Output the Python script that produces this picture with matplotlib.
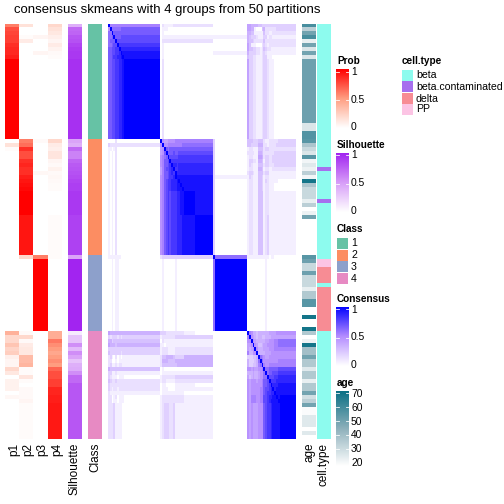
import numpy as np
import matplotlib
matplotlib.use('Agg')
import matplotlib.pyplot as plt
from matplotlib.colors import LinearSegmentedColormap, ListedColormap
from matplotlib.patches import Rectangle

plt.rcParams['font.family'] = ['Liberation Sans', 'DejaVu Sans']

# values, one entry per sample (top to bottom)
p1 = [.6, .75, .78, .8, .8, .85, .87, .87, .9] + [1.0] * 20 \
    + [0, .15, .02] + [0] * 26 + [0] * 19 \
    + [.4, .2, .2, .3, .22, .25, .08, .05, .05, .2, .12, 0, .07, .07, .07, 0, .04] + [0] * 10
p2 = [.15, 0, 0, .02, .1, 0, 0, 0, 0] + [0] * 20 \
    + [.6, .65, .85, .75, .75, .85, .88, .85, .85, .9, .93, .95, .97] + [1.0] * 6 + [.93] * 10 \
    + [.2] + [0] * 18 \
    + [.03, .2, .03, .1, .12, .12, .35, .35, .38, .02, .02, .13, .02, 0, .03, .03, .03, .05] + [.02] * 9
p3 = [0, 0, 0, .05, 0, 0, 0, .05, 0] + [0] * 20 \
    + [.03] + [0] * 7 + [.04] + [0] * 20 \
    + [.6] + [1.0] * 18 + [0] * 27
p4 = [.2, .15, .12, .08, .05, .1, .06, .03, .02] + [0] * 20 \
    + [.2, .1, .08, .13, .13, .05, .03, .07, .03, .04, .03, .02, .02] + [0] * 6 + [.02] * 10 \
    + [.02] + [0] * 18 \
    + [.42, .42, .62, .55, .5, .45, .5, .55, .5, .68, .75, .75, .8, .8, .88, .88, .9, .9] + [.92] * 9
silhouette = [.4, .7, .72, .78, .8, .85, .88, .9, .9] + [.93] * 20 \
    + [.45, .4, .7, .6, .6, .72, .76, .78, .8, .82, .85, .87, .87] + [.9] * 6 + [.86] * 10 \
    + [.45] + [.98] * 18 \
    + [.1, .3, .3, .55, .35, .55, .45, .3, .4, .42, .55, .7, .7] + [.78] * 14
classes = [1] * 29 + [2] * 29 + [3] * 19 + [4] * 27
age = [58, 35, 50, 58, 25, 50, 28, 50, 28] + [51] * 16 + [28, 28, 56, 56] \
    + [55, 38, 32, 28, 55, 23, 27, 24, 35, 23, 68, 38, 32, 32, 32, 25, 35, 20, 24, 50] + [20] * 9 \
    + [55, 51, 32, 32, 51, 32, 32, 32, 25, 37, 37, 55, 55, 20, 20, 68, 20, 20, 68] \
    + [37, 20, 24, 68, 40, 40, 50, 37, 37, 27, 37, 37, 25, 37, 37, 50, 30, 35, 50, 21, 21, 27, 27, 27, 20, 27, 20]
cell_type = [0] * 36 + [1] + [0] * 7 + [1] + [0] * 14 + [3, 3] + [2] * 4 + [0] + [2] * 11 + [0] * 27

# consensus matrix by bands of samples, hex digit = level / 15
band_sizes = [1] * 9 + [20] + [1] * 13 + [6, 10] + [1, 18] + [1] * 18 + [9]
consensus_rows = [
    "f888888888 021111122222222 00 6655554433333333333",
    "7f99999aaa 011100000000000 00 6655100045222222333",
    "99faaaaaaa 010000000000000 00 5544111114221122222",
    "99afaaabbb 011111111111111 11 5433321113312211111",
    "9aaafbbbbb 022222222222222 00 5443222224222222222",
    "99abbfcccc 010000000000000 00 6411100023212222222",
    "aabbccfddd 010000000000000 00 6443322124322111111",
    "aabbccdfee 010000000000000 11 5333322123211111111",
    "aabccddefe 010000000000000 00 4332211123311100000",
    "aabbccddef 020000000000000 00 6332211123321110000",
    "0000200000 f76677778888888 30 4443334442112222233",
    "3222222222 7f7788888888999 30 4433335552212222333",
    "1101200000 67fa9aaaaaaaaaa 30 1221114442332222222",
    "1010200000 67afaaabaabbbbb 30 2222115542222223333",
    "1010200000 789afbbbbbccccc 30 1221116652332233333",
    "1010200000 78aabfccccccccc 30 1332215541332233333",
    "1010200000 78aabcfddcddddd 30 1321114442332223333",
    "1010200000 68abbcdfccddddd 30 1221115541221122222",
    "1010200000 68aabcdcfdddddd 30 2332114442331111111",
    "1010200000 78aabccdfeeeeee 31 1321114431221111111",
    "1010200000 78abccdddefeeee 30 1221114431321111100",
    "1010200000 78abccdddeefeee 30 1221114431221110000",
    "1010200000 78abccdddeeefee 30 1221114431221110000",
    "1010200000 78abcbcccddeefe 30 1221114441221111111",
    "1010200000 78abcbcccdddeef 30 1221114441231111111",
    "1111111000 233333333333333 f9 1111111111110110000",
    "0010110000 010000001000000 9f 0000000000100000000",
    "6555555555 333222222222210 00 f875545555556666777",
    "3233323233 122222223333333 00 8f76545544555666666",
    "5534444444 021111111111111 00 77f7655555667778899",
    "6555455555 110111111111111 00 667f764456677778899",
    "3333333333 122211112222222 00 6567f75556667778888",
    "4333333233 122211112222222 00 85577f5555666777777",
    "2310201011 244555543333355 00 333445f987667777777",
    "2200101111 255544445555555 00 5333459f97777777788",
    "2311212211 244444444555555 00 53344589f8778888888",
    "5444444444 010000000000000 00 776766778f99aaaaabb",
    "3311211111 011111111111111 00 5556556779f9aabbbcc",
    "3211101110 122222223333333 00 64565567799fbbbccdd",
    "4322322222 122111112222222 00 767776778aabfcccddd",
    "3222222222 011000001111110 00 767777778aabcfdddee",
    "3212212222 011100001111111 00 767777788abbcdfdeee",
    "2111111111 011111111111100 00 767777788abccddfeee",
    "2201201110 122222222222211 00 768887788bbcddeefef",
    "2201101110 122222222222211 00 768887788bbcdeeeeff",
    "2223111100 123332231111111 00 767666777abccdeeeef",
]

group_labels = ['p1', 'p2', 'p3', 'p4']
class_colors = ['#66C2A5', '#FC8D62', '#8DA0CB', '#E78AC3']
class_names = ['1', '2', '3', '4']
cell_colors = ['#8DFBEE', '#A66FEE', '#F78C94', '#FCC4E4']
cell_names = ['beta', 'beta.contaminated', 'delta', 'PP']

prob_cmap = LinearSegmentedColormap.from_list('prob', ['#FFFFFF', '#FF9E81', '#FF0000'])
sil_cmap = LinearSegmentedColormap.from_list('sil', ['#FFFFFF', '#D69BF8', '#A020F0'])
cons_cmap = LinearSegmentedColormap.from_list('cons', ['#FFFFFF', '#B38BFF', '#0000FF'])
age_cmap = LinearSegmentedColormap.from_list('age', ['#FFFFFF', '#8DB0BB', '#0A7085'])

SIZE = 504.0
TOP, BOTTOM = 23.5, 439.2


def pixel_axes(fig, x0, y0, x1, y1):
    """Axes placed in pixels, measured from the top left of the figure."""
    ax = fig.add_axes([x0 / SIZE, 1 - y1 / SIZE, (x1 - x0) / SIZE, (y1 - y0) / SIZE])
    ax.set_axis_off()
    return ax


def heat_column(fig, x0, x1, values, cmap, vmin=0, vmax=1):
    ax = pixel_axes(fig, x0, TOP, x1, BOTTOM)
    ax.imshow(values, cmap=cmap, vmin=vmin, vmax=vmax, aspect='auto', interpolation='nearest')
    return ax


def bottom_label(fig, x, text):
    fig.text(x / SIZE, 1 - 443 / SIZE, text, rotation=90, ha='center', va='top', fontsize=11.8)


def color_bar(fig, y0, y1, title, labels, label_y, tick_y, cmap):
    fig.text(337 / SIZE, 1 - (y0 - 8) / SIZE, title, fontsize=10, fontweight='bold', va='center')
    ax = pixel_axes(fig, 336, y0, 349, y1)
    ax.imshow(np.linspace(1, 0, 128).reshape(-1, 1), cmap=cmap, vmin=0, vmax=1,
              aspect='auto', interpolation='bilinear')
    ax2 = pixel_axes(fig, 336, y0, 349, y1)
    ax2.patch.set_alpha(0)
    ax2.set_xlim(336, 349)
    ax2.set_ylim(y1, y0)
    for t in tick_y:
        ax2.plot([336, 339], [t, t], color='white', lw=0.8)
        ax2.plot([346, 349], [t, t], color='white', lw=0.8)
    for lab, y in zip(labels, label_y):
        fig.text(351 / SIZE, 1 - y / SIZE, lab, fontsize=10.3, va='center')


def color_keys(fig, x, y_list, colors, names, size=11):
    ax = fig.add_axes([0, 0, 1, 1])
    ax.set_axis_off()
    ax.patch.set_alpha(0)
    ax.set_xlim(0, SIZE)
    ax.set_ylim(SIZE, 0)
    for y, col, name in zip(y_list, colors, names):
        ax.add_patch(Rectangle((x, y), size, size - 0.5, facecolor=col, edgecolor='none'))
        ax.text(x + size + 3, y + size / 2, name, fontsize=10.5, va='center')


def main():
    rows = [r.replace(' ', '') for r in consensus_rows]
    for r in rows:
        assert len(r) == len(band_sizes), r
    assert len(rows) == len(band_sizes)
    levels = np.array([[int(ch, 16) / 15 for ch in r] for r in rows])
    matrix = np.repeat(np.repeat(levels, band_sizes, axis=0), band_sizes, axis=1)

    fig = plt.figure(figsize=(7, 7), dpi=72)
    fig.text(167 / SIZE, 1 - 10 / SIZE, 'consensus skmeans with 4 groups from 50 partitions',
             ha='center', va='center', fontsize=13.1)

    prob = np.column_stack([p1, p2, p3, p4])
    heat_column(fig, 5, 62, prob, prob_cmap)
    heat_column(fig, 68, 82, np.array(silhouette).reshape(-1, 1), sil_cmap)
    heat_column(fig, 88, 102, np.array(classes).reshape(-1, 1) - 1,
                ListedColormap(class_colors), 0, 3)
    heat_column(fig, 108, 296, matrix, cons_cmap)
    heat_column(fig, 302, 316, np.array(age).reshape(-1, 1), age_cmap, 20, 70)
    heat_column(fig, 317, 331, np.array(cell_type).reshape(-1, 1),
                ListedColormap(cell_colors), 0, 3)

    for x, lab in zip([14, 28, 42, 57, 75, 95, 309, 324],
                      group_labels + ['Silhouette', 'Class', 'age', 'cell.type']):
        bottom_label(fig, x, lab)

    color_bar(fig, 69, 128, 'Prob', ['1', '0.5', '0'], [72, 100, 127], [71.5, 99.5], prob_cmap)
    color_bar(fig, 153, 212, 'Silhouette', ['1', '0.5', '0'], [155, 183, 211], [155.5, 183.5], sil_cmap)
    color_bar(fig, 307, 366, 'Consensus', ['1', '0.5', '0'], [310, 337, 365], [309.5, 337.5], cons_cmap)
    color_bar(fig, 391, 466, 'age', ['70', '60', '50', '40', '30', '20'],
              [394, 408, 422, 435, 449, 463], [393.5, 407.5, 421, 435, 449], age_cmap)

    fig.text(337 / SIZE, 1 - 229 / SIZE, 'Class', fontsize=10, fontweight='bold', va='center')
    color_keys(fig, 337, [238, 250, 261, 273], class_colors, class_names)
    fig.text(402 / SIZE, 1 - 61 / SIZE, 'cell.type', fontsize=10, fontweight='bold', va='center')
    color_keys(fig, 402, [70, 81, 93, 104], cell_colors, cell_names)

    fig.savefig('out.png', dpi=72)


if __name__ == '__main__':
    main()
